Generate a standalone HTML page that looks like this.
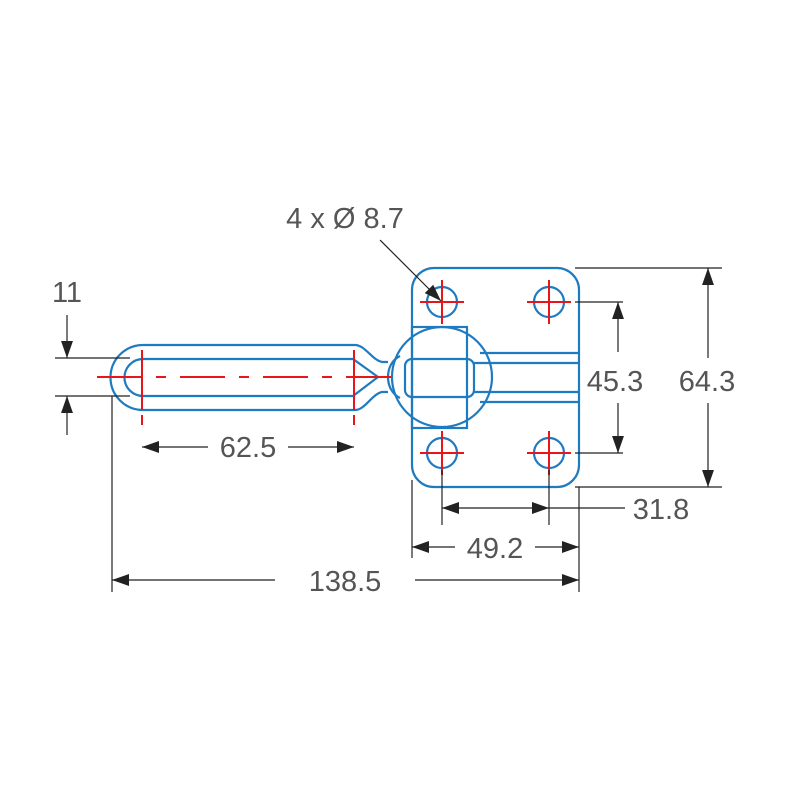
<!DOCTYPE html>
<html><head><style>html,body{margin:0;padding:0;background:#fff}svg{display:block}</style></head>
<body>
<svg width="800" height="800" viewBox="0 0 800 800" xmlns="http://www.w3.org/2000/svg">
<defs>
<marker id="b" viewBox="0 0 10 10" refX="10" refY="5" markerWidth="17" markerHeight="17" orient="auto-start-reverse" markerUnits="userSpaceOnUse"><path d="M0,1.5 L10,5 L0,8.5 z" fill="#222"/></marker>
</defs>
<g fill="none" stroke="#1f7bc0" stroke-width="2.2">
<rect x="412" y="268" width="167" height="219" rx="22"/>
<circle cx="442" cy="302" r="15"/><circle cx="549" cy="302" r="15"/>
<circle cx="442" cy="453" r="15"/><circle cx="549" cy="453" r="15"/>
<rect x="412" y="327" width="55" height="101"/>
<circle cx="442" cy="377" r="50"/>
<rect x="405" y="359" width="69" height="38" rx="7"/>
<line x1="480" y1="353" x2="579" y2="353"/>
<line x1="474" y1="363" x2="579" y2="363"/>
<line x1="474" y1="392" x2="579" y2="392"/>
<line x1="480" y1="402" x2="579" y2="402"/>
<path d="M400,356 C392,360 388,368 388,377 C388,386 392,394 400,398"/>
<path d="M143,345 L355,345 C365,345 372,360 382,362 L388,362 M388,392 L382,392 C372,394 365,410 355,410 L143,410 A32.5,32.5 0 0 1 143,345"/>
<path d="M143,359 L353,359 L378,377 L353,396 L143,396 A18.5,18.5 0 0 1 143,359"/>
</g>
<g stroke="#e8151b" stroke-width="2" fill="none">
<path d="M420,302h44M442,280v44M527,302h44M549,280v44M420,453h44M442,431v44M527,453h44M549,431v44"/>
<line x1="97" y1="377" x2="400" y2="377" stroke-dasharray="45,14,10,14"/>
<line x1="142" y1="350" x2="142" y2="460" stroke-dasharray="60,5,10"/>
<line x1="354" y1="350" x2="354" y2="460" stroke-dasharray="60,5,10"/>
</g>
<g stroke="#222" stroke-width="1.2" fill="none">
<line x1="55" y1="358" x2="130" y2="358"/><line x1="55" y1="396" x2="130" y2="396"/>
<line x1="67" y1="315" x2="67" y2="358" marker-end="url(#b)"/>
<line x1="67" y1="435" x2="67" y2="396" marker-end="url(#b)"/>
<line x1="142" y1="447" x2="208" y2="447" marker-start="url(#b)"/>
<line x1="288" y1="447" x2="354" y2="447" marker-end="url(#b)"/>
<line x1="112" y1="396" x2="112" y2="592"/><line x1="579" y1="487" x2="579" y2="592"/>
<line x1="112" y1="580" x2="275" y2="580" marker-start="url(#b)"/>
<line x1="415" y1="580" x2="579" y2="580" marker-end="url(#b)"/>
<line x1="412" y1="480" x2="412" y2="558"/><line x1="442" y1="470" x2="442" y2="525"/><line x1="549" y1="470" x2="549" y2="525"/>
<line x1="412" y1="547" x2="455" y2="547" marker-start="url(#b)"/>
<line x1="535" y1="547" x2="579" y2="547" marker-end="url(#b)"/>
<line x1="442" y1="508" x2="549" y2="508" marker-start="url(#b)" marker-end="url(#b)"/>
<line x1="549" y1="508" x2="625" y2="508"/>
<line x1="575" y1="302" x2="623" y2="302"/><line x1="575" y1="453" x2="623" y2="453"/>
<line x1="618" y1="352" x2="618" y2="302" marker-end="url(#b)"/>
<line x1="618" y1="403" x2="618" y2="453" marker-end="url(#b)"/>
<line x1="575" y1="268" x2="722" y2="268"/><line x1="575" y1="487" x2="722" y2="487"/>
<line x1="708" y1="358" x2="708" y2="268" marker-end="url(#b)"/>
<line x1="708" y1="403" x2="708" y2="487" marker-end="url(#b)"/>
<line x1="380" y1="240" x2="441" y2="301" marker-end="url(#b)"/>
</g>
<g font-family="Liberation Sans, sans-serif" fill="#555" font-size="29">
<text x="345" y="228" text-anchor="middle">4 x Ø 8.7</text>
<text x="67" y="302" text-anchor="middle">11</text>
<text x="248" y="457" text-anchor="middle">62.5</text>
<text x="345" y="591" text-anchor="middle">138.5</text>
<text x="495" y="558" text-anchor="middle">49.2</text>
<text x="661" y="519" text-anchor="middle">31.8</text>
<text x="615" y="391" text-anchor="middle">45.3</text>
<text x="707" y="391" text-anchor="middle">64.3</text>
</g>
</svg>
</body></html>
